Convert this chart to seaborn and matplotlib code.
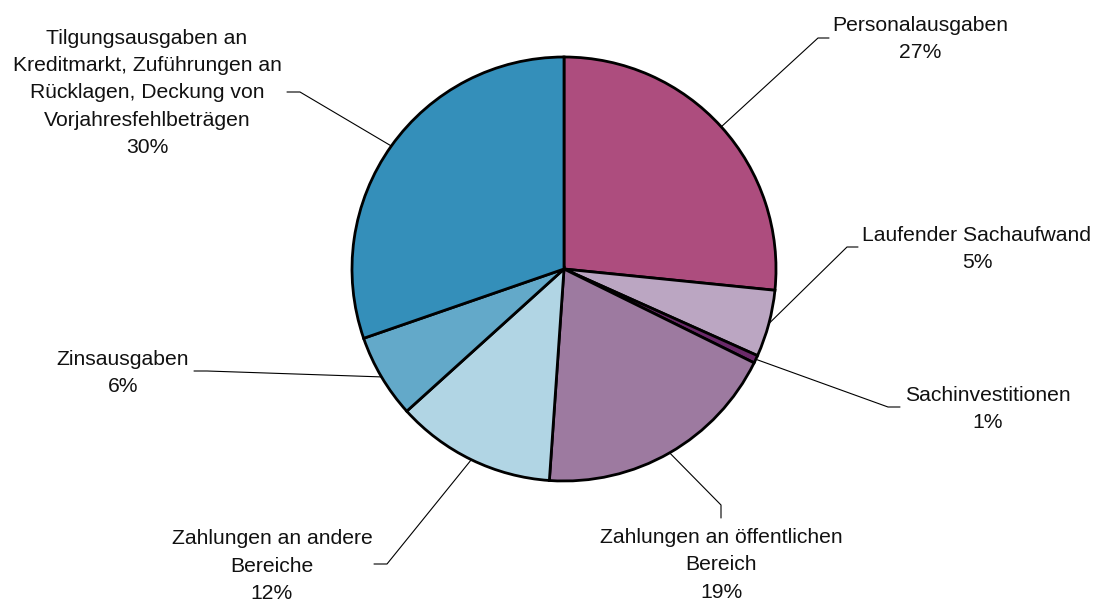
import numpy as np
import matplotlib
matplotlib.use("Agg")
import matplotlib.pyplot as plt
import seaborn as sns

# data (shares in percent, clockwise from 12 o'clock)
categories = ["Personalausgaben", "Laufender Sachaufwand", "Sachinvestitionen",
              "Zahlungen an öffentlichen\nBereich", "Zahlungen an andere\nBereiche",
              "Zinsausgaben",
              "Tilgungsausgaben an\nKreditmarkt, Zuführungen an\nRücklagen, Deckung von\nVorjahresfehlbeträgen"]
shares = [26.6, 5.1, 0.6, 18.8, 12.2, 6.4, 30.3]
colors = ["#AD4D7E", "#BBA6C2", "#6B2A6A", "#9D7AA0", "#B1D5E4", "#63A9C9", "#348FBA"]

# label layout (pixels): text centre, elbow point, line end near text
text_pos = [(920, 39), (977, 249), (988, 409), (721, 565), (272, 566), (123, 373), (147, 93)]
elbows = [(818, 38), (847, 247), (888, 407), (721, 505), (387, 564), (207, 371), (300, 92)]
line_ends = [(829, 38), (858, 247), (900, 407), (721, 518), (374, 564), (194, 371), (287, 92)]

sns.set_theme(style="white")
plt.rcParams['font.family'] = ['Liberation Sans', 'DejaVu Sans']

W, H = 1096, 601
fig = plt.figure(figsize=(W / 100, H / 100), dpi=100)
ax = fig.add_axes([0, 0, 1, 1])

center = (564, 269)
radius = 212
wedges, _ = ax.pie(shares, colors=colors, startangle=-90, counterclock=True,
                   center=center, radius=radius,
                   wedgeprops=dict(edgecolor="black", linewidth=2))
ax.set_xlim(0, W)
ax.set_ylim(H, 0)
ax.set_aspect("equal")
ax.axis("off")

for w, cat, pct, tp, el, le in zip(wedges, categories, shares, text_pos, elbows, line_ends):
    mid = np.deg2rad((w.theta1 + w.theta2) / 2)
    px = center[0] + radius * np.cos(mid)
    py = center[1] + radius * np.sin(mid)
    ax.plot([px, el[0], le[0]], [py, el[1], le[1]], color="black", lw=0.8)
    ax.text(tp[0], tp[1], f"{cat}\n{round(pct)}%", ha="center", va="center",
            fontsize=15.2, linespacing=1.56, color="#111111")

fig.savefig("out.png", dpi=100)
